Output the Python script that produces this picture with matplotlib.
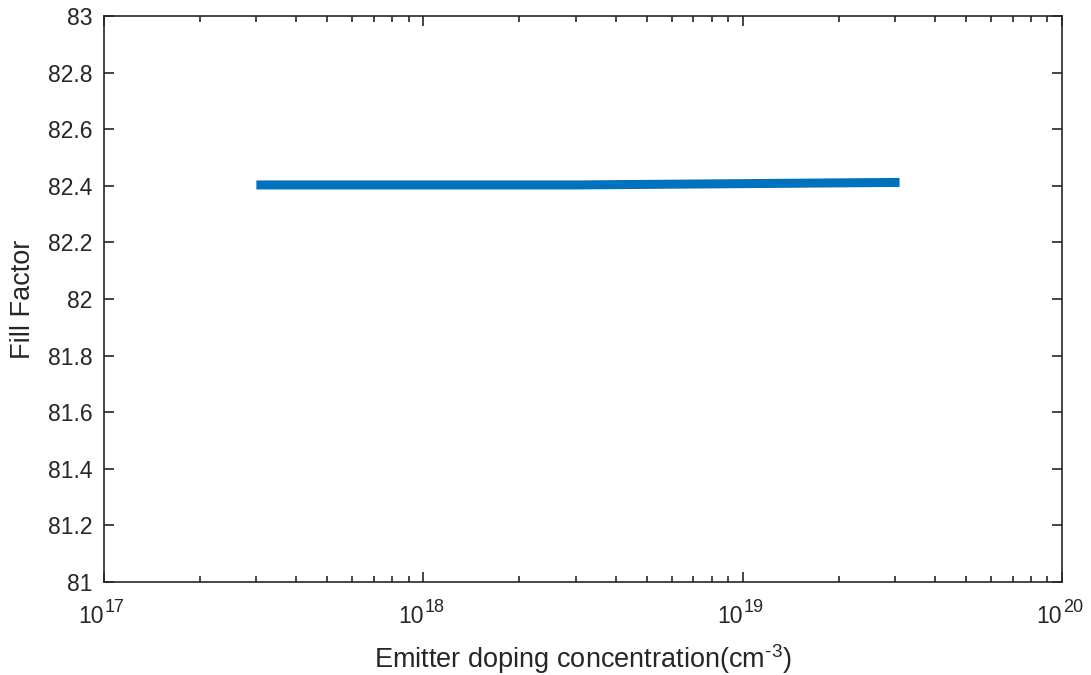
import matplotlib
matplotlib.use("Agg")
import matplotlib.pyplot as plt
from matplotlib.ticker import LogLocator, NullFormatter, FixedLocator
from matplotlib.transforms import blended_transform_factory, offset_copy

# Emitter doping (cm^-3) and resulting fill factor
doping = [3e17, 3e18, 3.1e19]
fill_factor = [82.403, 82.403, 82.412]

x_limits = (1e17, 1e20)
x_decades = [17, 18, 19, 20]
y_limits = (81, 83)
y_ticks = [81, 81.2, 81.4, 81.6, 81.8, 82, 82.2, 82.4, 82.6, 82.8, 83]
y_tick_labels = ["81", "81.2", "81.4", "81.6", "81.8", "82", "82.2", "82.4", "82.6", "82.8", "83"]

plt.rcParams["font.family"] = ["Liberation Sans", "DejaVu Sans"]
plt.rcParams["mathtext.fontset"] = "custom"
plt.rcParams["mathtext.rm"] = "Liberation Sans"
plt.rcParams["mathtext.it"] = "Liberation Sans:italic"

text_color = "#262626"
edge = "#262626"
tick_fs = 16.5
label_fs = 19.5

fig = plt.figure(figsize=(10.91, 6.75), dpi=100)
ax = fig.add_axes([104 / 1091, 1 - 582 / 675, (1062 - 104) / 1091, (582 - 16) / 675])

ax.plot(doping, fill_factor, color="#0072BD", linewidth=6.5, solid_capstyle="butt")

ax.set_xscale("log")
ax.set_xlim(*x_limits)
ax.set_ylim(*y_limits)
ax.yaxis.set_major_locator(FixedLocator(y_ticks))
ax.set_yticklabels(y_tick_labels)
ax.xaxis.set_major_locator(FixedLocator([10.0 ** d for d in x_decades]))
ax.xaxis.set_minor_locator(LogLocator(base=10, subs=range(2, 10), numticks=20))
ax.xaxis.set_major_formatter(NullFormatter())
ax.xaxis.set_minor_formatter(NullFormatter())

for s in ax.spines.values():
    s.set_color(edge)
    s.set_linewidth(1.2)

ax.tick_params(axis="both", which="major", direction="in", length=7.2, width=1.2,
               colors=edge, labelcolor=text_color, labelsize=tick_fs,
               top=True, right=True)
ax.tick_params(axis="x", which="minor", direction="in", length=4.3, width=1.2,
               colors=edge, top=True)
ax.tick_params(axis="y", which="major", pad=8.5)

# Decade labels: base "10" with a raised exponent, centred on each tick
trans = blended_transform_factory(ax.transData, ax.transAxes)
for d in x_decades:
    base_t = offset_copy(trans, fig=fig, x=0, y=-41, units="dots")
    ax.text(10.0 ** d, 0, "10", transform=base_t, ha="right", va="baseline",
            fontsize=tick_fs, color=text_color, clip_on=False)
    exp_t = offset_copy(trans, fig=fig, x=1, y=-30, units="dots")
    ax.text(10.0 ** d, 0, str(d), transform=exp_t, ha="left", va="baseline",
            fontsize=13, color=text_color, clip_on=False)

ax.set_xlabel("Emitter doping concentration(cm$^{\\text{-3}}$)", fontsize=label_fs,
              color=text_color, labelpad=40)
ax.set_ylabel("Fill Factor", fontsize=label_fs, color=text_color, labelpad=8)

fig.savefig("out.png", dpi=100, facecolor="white")
